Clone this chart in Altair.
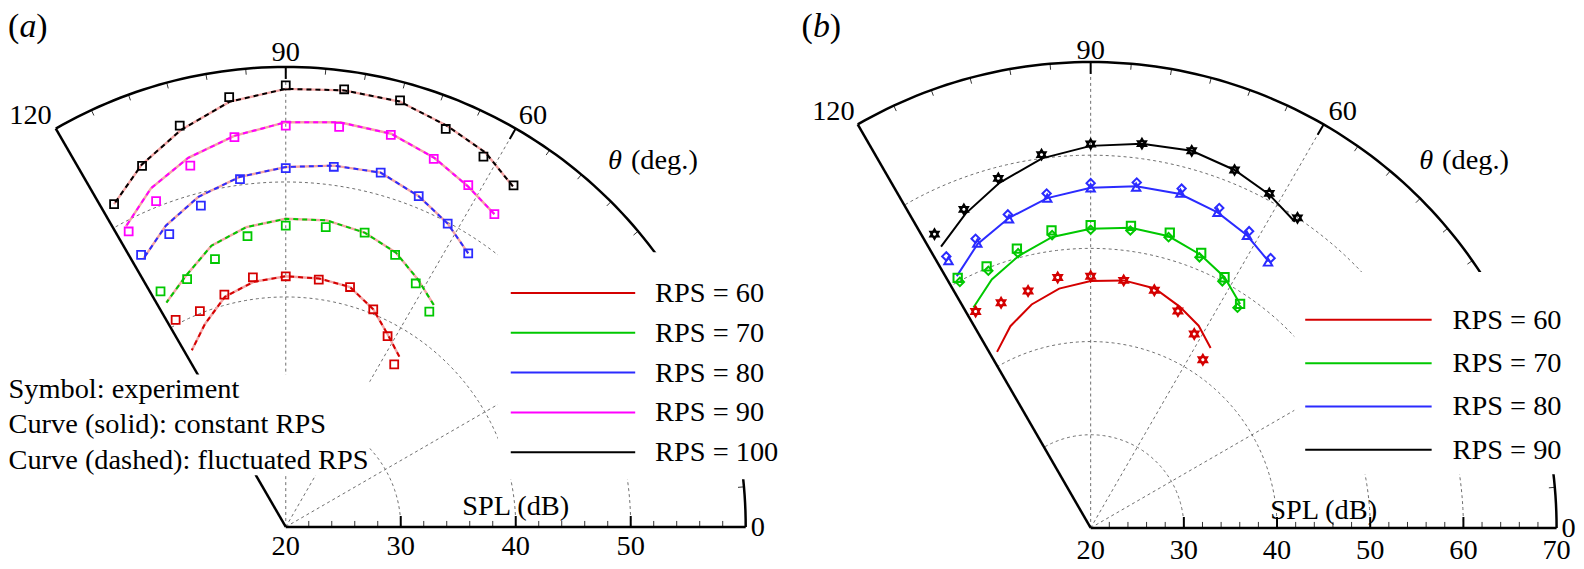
import altair as alt
import pandas as pd

FONT = "Liberation Serif"
FS = 28.5
GRID = "#6e6e6e"
PINK = "#f4a4a4"

# ---------------- data (theta in degrees, SPL in dB) ----------------
ANGLES = [118.0, 111.7, 104.8, 97.5, 90.0, 82.4, 75.0, 68.1, 61.9, 56.3]

# panel (a)
A_RPS = [60, 70, 80, 90, 100]
A_COLORS = ["#d40000", "#00c800", "#2b2bff", "#ff00ff", "#000000"]
A_EXP_60 = [40.4, 40.2, 40.9, 41.9, 41.8, 41.7, 41.6, 40.4, 38.8, 37.0]
A_EXP_70 = [43.2, 43.2, 44.1, 45.5, 46.2, 46.3, 46.5, 45.5, 44.0, 42.5]
A_EXP_80 = [46.8, 47.4, 48.9, 50.5, 51.2, 51.6, 51.9, 51.0, 49.9, 48.6]
A_EXP_90 = [49.1, 50.5, 52.5, 54.2, 54.9, 55.1, 55.3, 54.5, 53.7, 52.7]
A_EXP_100 = [51.8, 53.8, 56.1, 57.7, 58.4, 58.4, 58.4, 57.3, 56.5, 55.7]
A_CUR_60 = [37.4, 39.0, 40.7, 41.5, 41.8, 41.8, 41.6, 40.4, 38.9, 37.8]
A_CUR_70 = [42.1, 43.5, 45.3, 46.3, 46.8, 46.9, 46.5, 45.7, 44.4, 43.2]
A_CUR_80 = [46.4, 48.2, 49.7, 50.7, 51.3, 51.7, 51.9, 51.0, 49.9, 48.6]
A_CUR_90 = [49.6, 51.7, 53.2, 54.3, 55.2, 55.5, 55.4, 54.6, 53.6, 52.7]
A_CUR_100 = [51.8, 53.9, 55.7, 57.3, 58.1, 58.3, 58.3, 57.6, 56.9, 55.6]

# panel (b): two overlapping symbol sets per RPS
B_RPS = [60, 70, 80, 90]
B_COLORS = ["#d40000", "#00c800", "#2b2bff", "#000000"]
B_EXP_60_A = [46.3, 46.0, 46.3, 47.1, 47.0, 46.8, 46.4, 45.1, 43.6, 41.7]
B_EXP_60_B = [46.3, 46.0, 46.3, 47.1, 47.0, 46.8, 46.4, 45.1, 43.6, 41.7]
B_EXP_70_A = [50.4, 50.2, 51.0, 52.2, 52.5, 52.7, 52.8, 51.8, 50.5, 48.9]
B_EXP_70_B = [49.9, 49.7, 50.5, 51.7, 52.0, 52.2, 52.3, 51.3, 50.0, 48.4]
B_EXP_80_A = [53.0, 53.4, 54.8, 56.2, 57.0, 57.4, 57.7, 57.0, 56.1, 54.8]
B_EXP_80_B = [52.5, 52.9, 54.3, 55.7, 56.5, 56.9, 57.2, 56.5, 55.6, 54.3]
B_EXP_90_A = [55.7, 56.8, 58.8, 60.4, 61.2, 61.6, 61.9, 61.4, 60.7, 60.0]
B_EXP_90_B = [55.7, 56.8, 58.8, 60.4, 61.2, 61.6, 61.9, 61.4, 60.7, 60.0]
B_CUR_60 = [41.4, 43.3, 44.8, 45.9, 46.5, 46.8, 46.6, 45.6, 44.6, 43.2]
B_CUR_70 = [46.8, 48.7, 50.2, 51.5, 52.1, 52.5, 52.4, 51.6, 50.5, 48.9]
B_CUR_80 = [50.6, 52.8, 54.4, 55.7, 56.5, 57.0, 57.1, 56.5, 55.6, 54.4]
B_CUR_90 = [54.2, 56.3, 58.3, 60.0, 61.0, 61.6, 61.9, 61.4, 60.6, 59.5]
TRI_UP = "M0,-1L0.866,0.5L-0.866,0.5Z"
TRI_DOWN = "M0,1L0.866,-0.5L-0.866,-0.5Z"
B_SHAPES = [[TRI_UP, TRI_DOWN], ["square", "diamond"], ["diamond", "triangle-up"], [TRI_UP, TRI_DOWN]]
B_SIZES = [[100, 100], [70, 70], [70, 70], [95, 95]]

NOTES = ["Symbol: experiment", "Curve (solid): constant RPS",
         "Curve (dashed): fluctuated RPS"]

# axes
R0 = 20
A_RMAX, B_RMAX = 60, 70
A_RINGS = [30, 40, 50]
B_RINGS = [30, 40, 50, 60]
SPOKES = [30, 60, 90]
A_RADIAL_LABELS = [20, 30, 40, 50]
B_RADIAL_LABELS = [20, 30, 40, 50, 60, 70]
ANGLE_LABELS = [120, 90, 60, 0]

# layout: plot size and polar origin inside it (pixels), pixels per dB
A_L = dict(W=782, H=540, cx=279.0, cy=520.0, k=11.55)
B_L = dict(W=784, H=540, cx=305.5, cy=521.0, k=9.36)

CALC_P = dict(px=f"(datum.spl - {R0}) * cos(datum.theta * PI / 180)",
              py=f"(datum.spl - {R0}) * sin(datum.theta * PI / 180)")
CALC_P2 = dict(px2=f"(datum.spl2 - {R0}) * cos(datum.theta * PI / 180)",
               py2=f"(datum.spl2 - {R0}) * sin(datum.theta * PI / 180)")


def enc_xy(L, two=False):
    xd = [-L["cx"] / L["k"], (L["W"] - L["cx"]) / L["k"]]
    yd = [-(L["H"] - L["cy"]) / L["k"], L["cy"] / L["k"]]
    e = dict(x=alt.X("px:Q", scale=alt.Scale(domain=xd, nice=False, zero=False), axis=None),
             y=alt.Y("py:Q", scale=alt.Scale(domain=yd, nice=False, zero=False), axis=None))
    if two:
        e["x2"] = alt.X2("px2:Q")
        e["y2"] = alt.Y2("py2:Q")
    return e


def frame(L, rmax, rings):
    E, E2 = enc_xy(L), enc_xy(L, True)
    k = L["k"]
    ring_df = pd.DataFrame([{"ring": r, "theta": t, "spl": r} for r in rings for t in range(0, 121)])
    rings_l = alt.Chart(ring_df).transform_calculate(**CALC_P).mark_line(
        color=GRID, strokeWidth=1, strokeDash=[3, 3]).encode(**E, detail="ring:N", order="theta:Q")
    spoke_df = pd.DataFrame({"theta": SPOKES, "spl": R0, "spl2": rmax})
    spokes = alt.Chart(spoke_df).transform_calculate(**CALC_P, **CALC_P2).mark_rule(
        color=GRID, strokeWidth=1, strokeDash=[3, 3]).encode(**E2)
    outer_df = pd.DataFrame({"theta": list(range(0, 121)), "spl": rmax})
    outer = alt.Chart(outer_df).transform_calculate(**CALC_P).mark_line(
        color="black", strokeWidth=2.5).encode(**E, order="theta:Q")
    edge_df = pd.DataFrame({"theta": [0, 120], "spl": R0, "spl2": rmax})
    edges = alt.Chart(edge_df).transform_calculate(**CALC_P, **CALC_P2).mark_rule(
        color="black", strokeWidth=2.5).encode(**E2)
    minor = [t for t in range(5, 120, 5) if t % 30]
    major = [30, 60, 90]
    amin = alt.Chart(pd.DataFrame({"theta": minor, "spl": rmax - 6 / k, "spl2": rmax})).transform_calculate(
        **CALC_P, **CALC_P2).mark_rule(color="#333", strokeWidth=1).encode(**E2)
    amaj = alt.Chart(pd.DataFrame({"theta": major, "spl": rmax - 12 / k, "spl2": rmax})).transform_calculate(
        **CALC_P, **CALC_P2).mark_rule(color="black", strokeWidth=2).encode(**E2)
    rminor = [v for v in range(R0 + 2, rmax, 2) if v % 10]
    rmajor = [v for v in range(R0 + 10, rmax, 10)]
    rcalc = dict(px=f"datum.spl - {R0}", py="0", px2=f"datum.spl - {R0}", py2="datum.len")
    rmin = alt.Chart(pd.DataFrame({"spl": rminor, "len": 6 / k})).transform_calculate(**rcalc).mark_rule(
        color="#333", strokeWidth=1).encode(**E2)
    rmaj = alt.Chart(pd.DataFrame({"spl": rmajor, "len": 11 / k})).transform_calculate(**rcalc).mark_rule(
        color="black", strokeWidth=2).encode(**E2)
    return [rings_l, spokes, amin, amaj, rmin, rmaj, outer, edges]


def label(L, theta, spl, text, align="center", dx=0, dy=0, italic=False, fs=FS):
    df = pd.DataFrame({"theta": theta if isinstance(theta, list) else [theta],
                       "spl": spl if isinstance(spl, list) else [spl],
                       "text": text if isinstance(text, list) else [text]})
    return alt.Chart(df).transform_calculate(**CALC_P).mark_text(
        font=FONT, fontSize=fs, fontStyle="italic" if italic else "normal", align=align,
        baseline="middle", dx=dx, dy=dy, color="black").encode(**enc_xy(L), text="text:N")


def corner(text, x, y, italic):
    return alt.Chart(pd.DataFrame({"text": [text]})).mark_text(
        font=FONT, fontSize=34, fontStyle="italic" if italic else "normal", align="left",
        baseline="middle", color="black").encode(x=alt.value(x), y=alt.value(y), text="text:N")


def series_df(rps, lists):
    rows = []
    for r, vals in zip(rps, lists):
        for j, (t, v) in enumerate(zip(ANGLES, vals)):
            rows.append({"rps": r, "theta": t, "spl": v, "idx": j})
    return pd.DataFrame(rows)


def marker_df(rps, lists_a, lists_b, shapes, sizes):
    rows = []
    for r, la, lb, sh, sz in zip(rps, lists_a, lists_b, shapes, sizes):
        for vals, s, z in ((la, sh[0], sz[0]), (lb, sh[1], sz[1])):
            for t, v in zip(ANGLES, vals):
                rows.append({"rps": r, "theta": t, "spl": v, "shape": s, "size": z})
    return pd.DataFrame(rows)


def angle_labels(L, rmax, spec):
    out = []
    for a in ANGLE_LABELS:
        al, dx, dy = spec[a]
        out.append(label(L, a, rmax, str(a), align=al, dx=dx, dy=dy))
    return out


# ---------------- panel (a) ----------------
E_A = enc_xy(A_L)
a_cur = series_df(A_RPS, [A_CUR_60, A_CUR_70, A_CUR_80, A_CUR_90, A_CUR_100])
a_exp = series_df(A_RPS, [A_EXP_60, A_EXP_70, A_EXP_80, A_EXP_90, A_EXP_100])
a_scale = alt.Scale(domain=A_RPS, range=A_COLORS)

a_pink = alt.Chart(a_cur).transform_calculate(**CALC_P).mark_line(
    color=PINK, strokeWidth=2.4).encode(**E_A, detail="rps:N", order="theta:Q")
a_sq = alt.Chart(a_exp).transform_calculate(**CALC_P).mark_point(
    shape="square", filled=False, size=64, strokeWidth=1.8, opacity=1).encode(
    **E_A, color=alt.Color("rps:N", scale=a_scale, legend=alt.Legend(
        title=" ", titleFontSize=11, titlePadding=4, orient="none", legendX=492, legendY=244,
        symbolType="stroke", symbolSize=15625, symbolStrokeWidth=2,
        labelFont=FONT, labelFontSize=FS, labelColor="black", labelOffset=19, labelLimit=400,
        labelExpr="'RPS = ' + datum.label", clipHeight=28, rowPadding=11, padding=12,
        fillColor="white")))
a_dash = alt.Chart(a_cur).transform_calculate(**CALC_P).mark_line(
    strokeWidth=2, strokeDash=[5, 4]).encode(
    **E_A, color=alt.Color("rps:N", scale=a_scale, legend=None), order="theta:Q")
a_notes = alt.Chart(pd.DataFrame({"note": NOTES})).mark_point(opacity=0, size=0).encode(
    shape=alt.Shape("note:N", scale=alt.Scale(domain=NOTES), legend=alt.Legend(
        title=None, orient="none", legendX=0, legendY=367, labelFont=FONT, labelFontSize=FS,
        labelColor="black", labelOffset={"expr": "-28"}, labelLimit=600, symbolSize=0,
        symbolStrokeWidth=0, symbolOpacity=0, clipHeight=28, rowPadding=7, padding=0,
        fillColor="white")))

a_texts = angle_labels(A_L, A_RMAX, {120: ("right", -4, -14), 90: ("center", 0, -15),
                                      60: ("left", 3, -14), 0: ("left", 5, 0)})
a_texts += [
    label(A_L, [0] * len(A_RADIAL_LABELS), A_RADIAL_LABELS, [str(v) for v in A_RADIAL_LABELS], dy=19),
    label(A_L, 0, 40, "SPL (dB)", dy=-21),
    label(A_L, 45, A_RMAX, "θ", align="left", dx=-3, dy=-42, italic=True),
    label(A_L, 45, A_RMAX, "(deg.)", align="left", dx=20, dy=-42),
    corner("(", 0, 18, False), corner("a", 11.5, 18, True), corner(")", 28.5, 18, False),
]

panel_a = alt.layer(*frame(A_L, A_RMAX, A_RINGS), a_pink, a_sq, a_dash, *a_texts, a_notes).properties(
    width=A_L["W"], height=A_L["H"])

# ---------------- panel (b) ----------------
E_B = enc_xy(B_L)
b_cur = series_df(B_RPS, [B_CUR_60, B_CUR_70, B_CUR_80, B_CUR_90])
b_exp = marker_df(B_RPS, [B_EXP_60_A, B_EXP_70_A, B_EXP_80_A, B_EXP_90_A],
                  [B_EXP_60_B, B_EXP_70_B, B_EXP_80_B, B_EXP_90_B], B_SHAPES, B_SIZES)
b_scale = alt.Scale(domain=B_RPS, range=B_COLORS)

b_line = alt.Chart(b_cur).transform_calculate(**CALC_P).mark_line(strokeWidth=2).encode(
    **E_B, order="theta:Q",
    color=alt.Color("rps:N", scale=b_scale, legend=alt.Legend(
        title=" ", titleFontSize=18, titlePadding=6, orient="none", legendX=510, legendY=264,
        symbolType="stroke", symbolSize=16129, symbolStrokeWidth=2,
        labelFont=FONT, labelFontSize=FS, labelColor="black", labelOffset=20, labelLimit=400,
        labelExpr="'RPS = ' + datum.label", clipHeight=28, rowPadding=14.5, padding=10,
        fillColor="white")))
b_pts = alt.Chart(b_exp).transform_calculate(**CALC_P).mark_point(
    filled=False, strokeWidth=2, opacity=1).encode(
    **E_B, color=alt.Color("rps:N", scale=b_scale, legend=None),
    shape=alt.Shape("shape:N", scale=None, legend=None),
    size=alt.Size("size:Q", scale=None, legend=None))

b_texts = angle_labels(B_L, B_RMAX, {120: ("right", -3, -13), 90: ("center", 0, -12),
                                      60: ("left", 5, -13), 0: ("left", 5, 0)})
b_texts += [
    label(B_L, [0] * len(B_RADIAL_LABELS), B_RADIAL_LABELS, [str(v) for v in B_RADIAL_LABELS], dy=22),
    label(B_L, 0, 45, "SPL (dB)", dy=-18),
    label(B_L, 45, B_RMAX, "θ", align="left", dx=-1, dy=-39, italic=True),
    label(B_L, 45, B_RMAX, "(deg.)", align="left", dx=22, dy=-39),
    corner("(", 15, 18, False), corner("b", 26.5, 18, True), corner(")", 43.5, 18, False),
]

panel_b = alt.layer(*frame(B_L, B_RMAX, B_RINGS), b_line, b_pts, *b_texts).properties(
    width=B_L["W"], height=B_L["H"])

chart = alt.hconcat(panel_a, panel_b, spacing=0, bounds="flush", padding=0).resolve_scale(
    x="independent", y="independent", color="independent", shape="independent"
).configure_view(stroke=None)

chart.save("out.html", embed_options={"renderer": "svg", "actions": False})
